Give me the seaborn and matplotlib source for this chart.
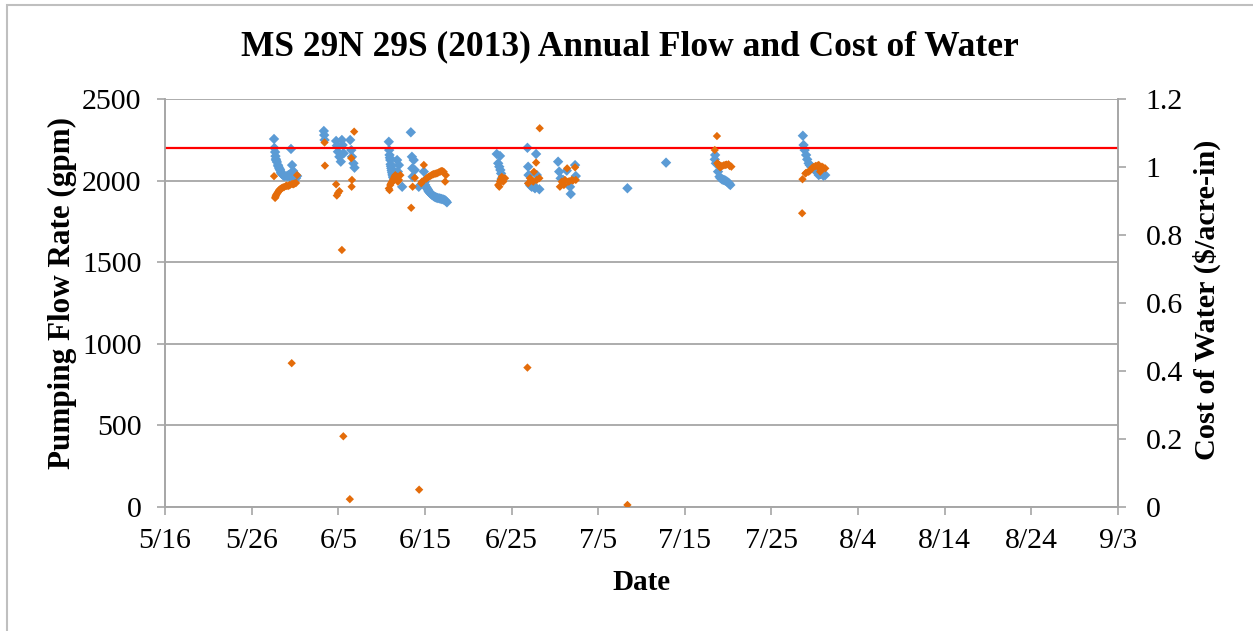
import pandas as pd
import numpy as np
import seaborn as sns
import matplotlib.pyplot as plt
import matplotlib.dates as mdates
from matplotlib.patches import Rectangle

# Data
FLOW_TIME = [
    '05-28 14:00', '05-28 15:00', '05-28 17:00', '05-28 18:00', '05-28 19:00', '05-28 22:00',
    '05-29 01:00', '05-29 04:00', '05-29 07:00', '05-29 09:00', '05-29 12:00', '05-29 15:00',
    '05-29 20:00', '05-30 02:00', '05-30 07:00', '05-30 10:00', '05-30 13:00', '05-30 16:00',
    '05-30 19:00', '05-30 21:00', '05-31 00:00', '05-31 06:00',
    '05-28 20:00', '05-29 02:00', '05-29 06:00', '05-29 10:00', '05-29 17:00', '05-30 04:00',
    '05-30 12:00', '05-30 23:00', '05-31 03:00',
    '06-03 08:00', '06-03 09:00', '06-03 10:00', '06-04 18:00', '06-04 20:00', '06-04 23:00',
    '06-05 03:00', '06-05 07:00', '06-05 10:00', '06-05 12:00', '06-05 15:00', '06-06 09:00',
    '06-06 12:00', '06-06 14:00', '06-06 18:00', '06-06 21:00',
    '06-10 20:00', '06-10 21:00', '06-10 22:00', '06-11 00:00', '06-11 01:00', '06-11 03:00',
    '06-11 05:00', '06-11 07:00', '06-11 10:00', '06-11 19:00', '06-11 21:00', '06-12 00:00',
    '06-12 09:00', '06-13 09:00', '06-13 12:00', '06-13 13:00', '06-13 14:00', '06-13 17:00',
    '06-13 20:00', '06-14 07:00', '06-14 21:00', '06-14 22:00', '06-15 00:00', '06-15 01:00',
    '06-15 06:00', '06-15 10:00', '06-15 15:00', '06-15 20:00', '06-16 03:00', '06-16 09:00',
    '06-16 16:00', '06-16 23:00', '06-17 07:00', '06-17 13:00',
    '06-10 23:00', '06-11 02:00', '06-11 04:00', '06-11 06:00', '06-11 08:00',
    '06-15 03:00', '06-15 08:00', '06-15 12:00', '06-15 18:00', '06-16 00:00', '06-16 06:00',
    '06-16 12:00', '06-16 20:00', '06-17 03:00', '06-17 10:00',
    '06-23 07:00', '06-23 11:00', '06-23 14:00', '06-23 16:00', '06-23 17:00', '06-23 19:00',
    '06-23 21:00',
    '06-26 20:00', '06-26 22:00', '06-26 23:00', '06-27 01:00', '06-27 08:00', '06-27 12:00',
    '06-27 17:00', '06-27 20:00', '06-27 22:00', '06-28 05:00', '06-27 04:00', '06-27 15:00',
    '06-30 09:00', '06-30 12:00', '06-30 16:00', '06-30 23:00', '07-01 09:00', '07-01 18:00',
    '07-01 20:00', '07-02 08:00', '07-02 10:00',
    '07-08 09:00', '07-12 20:00',
    '07-18 11:00', '07-18 12:00', '07-18 14:00', '07-18 20:00', '07-19 00:00', '07-19 07:00',
    '07-19 16:00', '07-20 01:00', '07-20 06:00',
    '07-19 03:00', '07-19 10:00', '07-19 13:00', '07-19 20:00', '07-20 03:00',
    '07-28 15:00', '07-28 17:00', '07-28 20:00', '07-29 00:00', '07-29 03:00', '07-29 07:00',
    '07-30 02:00', '07-30 11:00', '07-30 20:00', '07-31 05:00',
    '07-29 10:00', '07-29 14:00', '07-29 20:00', '07-30 06:00', '07-30 16:00', '07-31 00:00',
]
FLOW_GPM = [
    2255, 2200, 2175, 2150, 2132, 2114,
    2095, 2077, 2065, 2052, 2040, 2034,
    2028, 2028, 2034, 2022, 2194, 2095,
    2059, 2028, 2022, 2028,
    2125, 2088, 2070, 2046, 2030, 2030,
    2040, 2020, 2015,
    2304, 2279, 2249, 2243, 2214, 2177,
    2146, 2116, 2249, 2218, 2167, 2249,
    2187, 2146, 2106, 2079,
    2238, 2187, 2157, 2126, 2100, 2075,
    2051, 2030, 2010, 2126, 2055, 2095,
    1962, 2296, 2146, 2075, 2024, 2126,
    2065, 1962, 2055, 1997, 1993, 1973,
    1953, 1936, 1922, 1912, 1901, 1895,
    1891, 1887, 1881, 1867,
    2140, 2088, 2062, 2040, 2020,
    1962, 1945, 1930, 1916, 1905, 1898,
    1893, 1889, 1884, 1875,
    2163, 2106, 2085, 2151, 2065, 2044,
    2014,
    2201, 2085, 2034, 1983, 1962, 1973,
    1953, 2163, 2034, 1947, 1970, 1960,
    2116, 2055, 2014, 2004, 2061, 1962,
    1918, 2095, 2028,
    1953, 2110,
    2130, 2157, 2106, 2055, 2024, 2008,
    2000, 1987, 1973,
    2015, 2005, 2003, 1995, 1980,
    2275, 2218, 2187, 2157, 2130, 2106,
    2065, 2034, 2044, 2034,
    2095, 2085, 2075, 2050, 2040, 2030,
]

COST_TIME = [
    '05-28 14:00', '05-28 17:00', '05-28 19:00', '05-28 22:00', '05-29 01:00', '05-29 04:00',
    '05-29 07:00', '05-29 12:00', '05-29 18:00', '05-29 23:00', '05-30 05:00', '05-30 10:00',
    '05-30 15:00', '05-30 16:00', '05-30 21:00', '05-31 03:00', '05-31 06:00',
    '05-28 18:00', '05-28 20:00', '05-29 00:00', '05-29 03:00', '05-29 10:00', '05-29 15:00',
    '05-30 01:00', '05-30 08:00', '05-30 19:00', '05-31 00:00',
    '06-03 10:00', '06-03 11:00', '06-04 18:00', '06-04 20:00', '06-04 23:00', '06-05 03:00',
    '06-05 10:00', '06-05 14:00', '06-06 08:00', '06-06 12:00', '06-06 13:00', '06-06 14:00',
    '06-06 20:00',
    '06-10 20:00', '06-10 22:00', '06-11 00:00', '06-11 05:00', '06-11 10:00', '06-11 14:00',
    '06-11 19:00', '06-11 21:00', '06-12 00:00', '06-12 04:00', '06-13 10:00', '06-13 14:00',
    '06-13 20:00', '06-14 08:00', '06-14 14:00', '06-14 16:00', '06-14 21:00', '06-15 03:00',
    '06-15 10:00', '06-15 18:00', '06-16 00:00', '06-16 07:00', '06-16 14:00', '06-16 21:00',
    '06-17 04:00', '06-17 08:00', '06-17 10:00',
    '06-15 06:00', '06-15 14:00', '06-15 22:00', '06-16 04:00', '06-16 10:00', '06-16 18:00',
    '06-17 00:00', '06-11 02:00', '06-11 08:00', '06-11 12:00',
    '06-23 11:00', '06-23 14:00', '06-23 16:00', '06-23 21:00', '06-24 01:00', '06-24 06:00',
    '06-23 18:00',
    '06-26 20:00', '06-26 22:00', '06-27 03:00', '06-27 08:00', '06-27 12:00', '06-27 14:00',
    '06-27 20:00', '06-27 22:00', '06-28 05:00', '06-28 06:00',
    '06-30 14:00', '06-30 19:00', '07-01 01:00', '07-01 04:00', '07-01 10:00', '07-01 13:00',
    '07-01 23:00', '07-02 08:00', '07-02 10:00', '07-01 16:00', '07-02 02:00',
    '07-08 09:00',
    '07-18 11:00', '07-18 17:00', '07-18 18:00', '07-19 00:00', '07-19 02:00', '07-19 07:00',
    '07-19 16:00', '07-20 01:00', '07-20 09:00',
    '07-18 20:00', '07-18 22:00', '07-19 04:00', '07-19 12:00', '07-19 19:00', '07-20 04:00',
    '07-28 13:00', '07-28 14:00', '07-28 22:00', '07-29 07:00', '07-29 16:00', '07-30 02:00',
    '07-30 11:00', '07-30 15:00', '07-30 20:00', '07-31 05:00',
    '07-29 00:00', '07-29 11:00', '07-29 20:00', '07-30 07:00', '07-30 17:00', '07-31 00:00',
    '07-30 13:00',
]
COST_VAL = [
    0.973, 0.909, 0.915, 0.921, 0.926, 0.932,
    0.935, 0.938, 0.941, 0.944, 0.944, 0.947,
    0.423, 0.950, 0.950, 0.953, 0.976,
    0.912, 0.918, 0.924, 0.929, 0.937, 0.940,
    0.945, 0.946, 0.949, 0.952,
    1.072, 1.004, 0.949, 0.916, 0.923, 0.929,
    0.756, 0.208, 0.023, 1.026, 0.942, 0.962,
    1.104,
    0.937, 0.932, 0.947, 0.957, 0.967, 0.976,
    0.971, 0.957, 0.962, 0.976, 0.880, 0.942,
    0.968, 0.051, 0.952, 0.957, 1.006, 0.965,
    0.971, 0.976, 0.979, 0.981, 0.984, 0.988,
    0.986, 0.957, 0.976,
    0.968, 0.973, 0.978, 0.980, 0.982, 0.986,
    0.988, 0.952, 0.962, 0.972,
    0.947, 0.942, 0.957, 0.971, 0.957, 0.967,
    0.963,
    0.410, 0.952, 0.967, 0.962, 0.957, 0.986,
    1.013, 0.962, 0.967, 1.114,
    0.942, 0.957, 0.947, 0.962, 0.996, 0.957,
    0.962, 0.999, 0.962, 0.958, 0.960,
    0.006,
    1.050, 1.091, 1.011, 1.006, 0.999, 1.003,
    1.006, 1.008, 1.001,
    1.009, 1.004, 1.001, 1.005, 1.007, 1.003,
    0.864, 0.964, 0.981, 0.986, 0.996, 1.003,
    1.006, 0.986, 1.001, 0.996,
    0.983, 0.990, 1.000, 1.004, 0.992, 0.998,
    0.996,
]

TARGET_GPM = 2200
X_START, X_END = '2013-05-16', '2013-09-03'

flow = pd.DataFrame({'time': pd.to_datetime(['2013-' + t for t in FLOW_TIME]), 'gpm': FLOW_GPM})
cost = pd.DataFrame({'time': pd.to_datetime(['2013-' + t for t in COST_TIME]), 'cost': COST_VAL})

plt.rcParams['font.family'] = ['Liberation Serif', 'DejaVu Serif']
GRAY = '#A6A6A6'
TICK_SIZE = 21.5

fig = plt.figure(figsize=(12.53, 6.31), dpi=100)
ax = fig.add_axes([165 / 1253, 1 - 507 / 631, (1118 - 165) / 1253, (507 - 99) / 631])
ax2 = ax.twinx()

sns.scatterplot(data=flow, x='time', y='gpm', ax=ax, color='#5B9BD5', marker='D',
                s=28, edgecolor='none', zorder=3)
sns.scatterplot(data=cost, x='time', y='cost', ax=ax2, color='#E46C0A', marker='D',
                s=18, edgecolor='none', zorder=3)
ax.axhline(TARGET_GPM, color='#FF0000', lw=1.6, zorder=4)

ax.set_xlim(pd.Timestamp(X_START), pd.Timestamp(X_END))
ax.set_ylim(0, 2500)
ax2.set_ylim(0, 1.2)
ax.set_yticks(np.arange(0, 2501, 500))
ax2.set_yticks(np.arange(0, 1.21, 0.2))
ax2.set_yticklabels(['0', '0.2', '0.4', '0.6', '0.8', '1', '1.2'])
ax.set_xticks(pd.date_range(X_START, X_END, freq='10D'))
ax.xaxis.set_major_formatter(mdates.DateFormatter('%-m/%-d'))

ax.grid(axis='y', color=GRAY, lw=1.3)
ax.grid(axis='x', visible=False)
ax.set_axisbelow(True)
for a in (ax, ax2):
    a.spines['top'].set_visible(False)
    for side in ('left', 'right', 'bottom'):
        a.spines[side].set_color(GRAY)
        a.spines[side].set_linewidth(1.2)
    a.set_xlabel('')
    a.set_ylabel('')
ax.tick_params(axis='both', colors=GRAY, labelcolor='black', labelsize=TICK_SIZE,
               length=6, width=1.2, direction='out')
ax.tick_params(axis='x', pad=9)
ax.tick_params(axis='y', pad=11)
ax2.tick_params(axis='y', colors=GRAY, labelcolor='black', labelsize=TICK_SIZE,
                length=6, width=1.2, direction='out', pad=14)

fig.text(0.503, 1 - 47 / 631, 'MS 29N 29S (2013) Annual Flow and Cost of Water',
         ha='center', va='center', fontsize=25.5, fontweight='bold')
fig.text(641.5 / 1253, 1 - 582 / 631, 'Date', ha='center', va='center',
         fontsize=21, fontweight='bold')
fig.text(62 / 1253, 1 - 293 / 631, 'Pumping Flow Rate (gpm)', ha='center', va='center',
         rotation=90, fontsize=22.4, fontweight='bold')
fig.text(1207 / 1253, 1 - 300 / 631, 'Cost of Water ($/acre-in)', ha='center', va='center',
         rotation=90, fontsize=21.8, fontweight='bold')

fig.patches.append(Rectangle((7 / 1253, -0.1), 1.2, 1.1 - 5 / 631, transform=fig.transFigure,
                             fill=False, edgecolor='#BFBFBF', lw=1.5))

fig.savefig('out.png', dpi=100)
